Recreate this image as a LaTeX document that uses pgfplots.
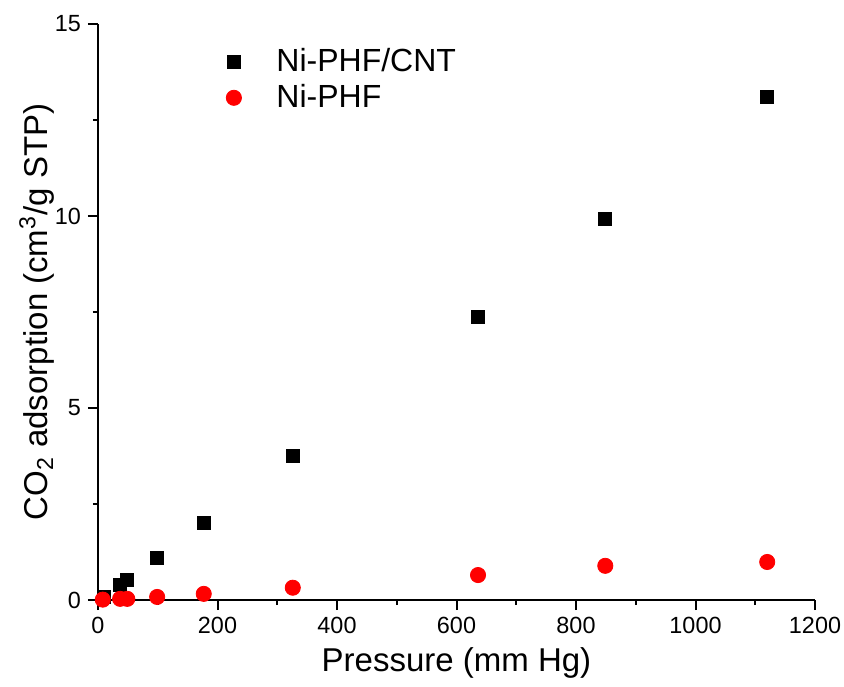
\documentclass[border=0pt]{standalone}
\usepackage{fontspec}
\setmainfont{Liberation Sans}
\usepackage{pgfplots}
\pgfplotsset{compat=1.18}
\begin{document}
\begin{tikzpicture}
\begin{axis}[
  scale only axis,
  width=358.5pt, height=288pt,
  xmin=0, xmax=1200, ymin=0, ymax=15,
  axis x line*=bottom, axis y line*=left,
  axis line style={line width=1pt},
  every tick/.style={line width=1pt, black},
  xtick={0,200,...,1200}, ytick={0,5,10,15},
  minor x tick num=1, minor y tick num=1,
  tick align=outside,
  major tick length=5pt, minor tick length=2.5pt,
  /pgf/number format/assume math mode=true,
  /pgf/number format/1000 sep={},
  tick label style={font=\fontsize{11.7}{14}\selectfont},
  xticklabel style={inner xsep=0.5pt},
  label style={font=\fontsize{16.5}{19}\selectfont, inner sep=0.5pt},
  xlabel={Pressure (mm Hg)},
  ylabel={CO\textsubscript{2} adsorption (cm\textsuperscript{3}/g STP)},
  xlabel style={at={(rel axis cs:0.5,0)}, anchor=center, yshift=-31.5pt},
  ylabel style={at={(rel axis cs:0,0.5)}, anchor=center, yshift=30.5pt},
  legend style={draw=none, fill=none, at={(0.17,0.972)}, anchor=north west,
    font=\fontsize{16}{19}\selectfont, row sep=1pt},
  legend cell align=left,
  clip=false,
]
\addplot[only marks, mark=square*, mark size=3.25pt, black] coordinates {
  (10,0.08) (37,0.39) (49,0.52) (99,1.09) (177,2.0) (326,3.76)
  (636,7.38) (849,9.92) (1120,13.1)
};
\addplot[only marks, mark=*, mark size=3.8pt, red] coordinates {
  (8,0.01) (37,0.03) (49,0.03) (99,0.08) (177,0.16) (326,0.32)
  (636,0.65) (849,0.89) (1120,0.99)
};
\legend{\hspace{15.5pt}Ni-PHF/CNT, \hspace{15.5pt}Ni-PHF}
\path (rel axis cs:0,0) ++(-49pt,-43pt);
\path (rel axis cs:1,1) ++(14.5pt,12pt);
\end{axis}
\end{tikzpicture}
\end{document}
